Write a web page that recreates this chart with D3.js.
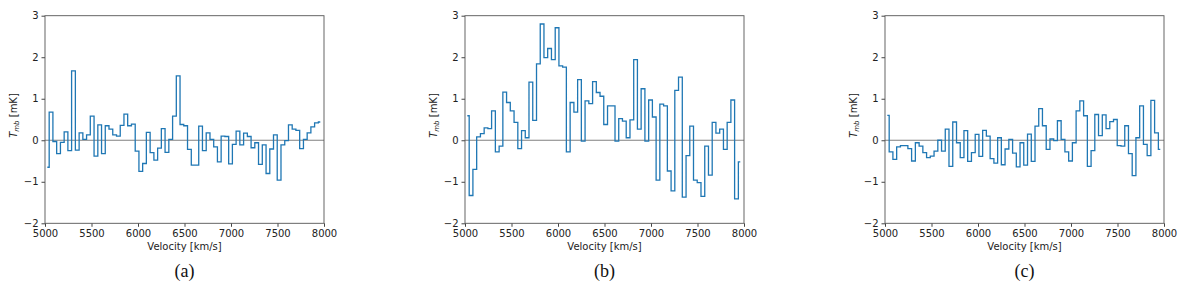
<!DOCTYPE html>
<html>
<head>
<meta charset="utf-8">
<script src="https://cdn.jsdelivr.net/npm/d3@7"></script>
<style>
  body { margin: 0; background: #fff; }
  svg text { font-family: "DejaVu Sans", sans-serif; }
  svg text.caption { font-family: "Liberation Serif", "DejaVu Serif", serif; }
</style>
</head>
<body>
<div id="chart"></div>
<script>
// channel velocities [km/s]
const velocity = [
  5025, 5065, 5105, 5146, 5186, 5226, 5266, 5306, 5347, 5387,
  5427, 5467, 5507, 5548, 5588, 5628, 5668, 5708, 5749, 5789,
  5829, 5869, 5909, 5950, 5990, 6030, 6070, 6110, 6151, 6191,
  6231, 6271, 6311, 6352, 6392, 6432, 6472, 6512, 6553, 6593,
  6633, 6673, 6713, 6754, 6794, 6834, 6874, 6914, 6955, 6995,
  7035, 7075, 7115, 7156, 7196, 7236, 7276, 7316, 7357, 7397,
  7437, 7477, 7517, 7558, 7598, 7638, 7678, 7718, 7759, 7799,
  7839, 7879, 7919, 7960
];

// T_mb [mK] per channel
const tmbA = [
  -0.65, 0.68, -0.03, -0.32, -0.05, 0.20, -0.25, 1.67, -0.24, 0.18,
  0.02, 0.13, 0.58, -0.38, 0.37, -0.32, 0.35, 0.27, 0.13, 0.10,
  0.36, 0.63, 0.35, 0.39, -0.26, -0.75, -0.56, 0.19, -0.30, -0.48,
  -0.19, 0.28, -0.29, 0.02, 0.58, 1.55, 0.38, 0.35, -0.22, -0.60,
  -0.60, 0.34, -0.25, 0.18, 0.02, -0.16, -0.52, 0.10, 0.09, -0.57,
  -0.10, 0.22, -0.11, 0.17, 0.09, -0.18, -0.06, -0.58, -0.11, -0.80,
  -0.21, 0.13, -0.96, -0.11, -0.01, 0.37, 0.27, 0.24, -0.20, 0.02,
  0.18, 0.32, 0.42, 0.44
];
const tmbB = [
  0.59, -1.33, -0.70, 0.08, 0.16, 0.30, 0.28, 0.71, -0.28, -0.14,
  1.16, 0.91, 0.71, 0.43, -0.20, 0.23, 0.06, 1.40, 0.48, 1.84,
  2.80, 1.99, 2.21, 1.94, 2.71, 1.79, 1.76, -0.28, 0.91, 0.68,
  1.46, -0.02, 0.95, 0.88, 1.41, 1.15, 1.06, 0.38, 0.83, 0.83,
  -0.02, 0.52, 0.46, 0.06, 0.49, 1.94, 0.27, 1.24, -0.02, 0.97,
  0.56, -0.96, 0.87, 0.83, -0.74, -1.22, 1.20, 1.52, -1.37, -0.37,
  0.34, -0.96, -1.02, -1.35, -0.14, -0.84, 0.43, 0.17, 0.27, -0.22,
  0.43, 0.97, -1.41, -0.52
];
const tmbC = [
  0.60, -0.28, -0.46, -0.16, -0.13, -0.13, -0.20, -0.50, -0.06, -0.14,
  -0.30, -0.42, -0.38, -0.26, 0.00, -0.26, 0.27, -0.63, 0.44, -0.06,
  -0.42, 0.23, -0.51, -0.30, 0.14, -0.39, 0.24, 0.10, -0.44, -0.55,
  0.06, -0.59, -0.21, 0.02, -0.31, -0.64, -0.06, -0.60, 0.15, -0.51,
  0.34, 0.76, 0.35, -0.22, 0.03, -0.01, 0.47, 0.02, -0.28, -0.50,
  -0.06, 0.71, 0.95, 0.59, -0.63, -0.25, 0.62, 0.11, 0.61, 0.28,
  0.45, 0.50, -0.13, -0.14, 0.35, -0.32, -0.85, 0.06, 0.83, -0.10,
  -0.37, 0.96, 0.18, -0.22
];

const xTicks = [5000, 5500, 6000, 6500, 7000, 7500, 8000];
const yTicks = [-2, -1, 0, 1, 2, 3];
const panelLabels = ["(a)", "(b)", "(c)"];
const panelSeries = [tmbA, tmbB, tmbC];

const width = 1200, height = 288;
const panelLeft = [45, 465, 885];
const plotW = 279;
const plotTop = 15.7, plotBottom = 223.3;

const svg = d3.select("#chart")
  .append("svg")
    .attr("width", width)
    .attr("height", height)
    .attr("viewBox", `0 0 ${width} ${height}`);

const fmt = d => String(d).replace("-", "\u2212");

const x = d3.scaleLinear().domain([5000, 8000]).range([0, plotW]);
const y = d3.scaleLinear().domain([-2, 3]).range([plotBottom - plotTop, 0]);
const plotH = plotBottom - plotTop;

const line = d3.line()
  .x((d, i) => x(velocity[i]))
  .y(d => y(d))
  .curve(d3.curveStep);

panelSeries.forEach((series, p) => {
  const g = svg.append("g")
    .attr("transform", `translate(${panelLeft[p]}, ${plotTop})`);

  // axes
  g.append("g")
    .attr("transform", `translate(0, ${plotH})`)
    .call(d3.axisBottom(x).tickValues(xTicks).tickFormat(d => d)
      .tickSize(3.5).tickSizeOuter(0).tickPadding(3))
    .call(a => a.selectAll("text").attr("font-size", 10).attr("fill", "#222"))
    .call(a => a.selectAll("line").attr("stroke", "#444"))
    .call(a => a.select(".domain").remove());

  g.append("g")
    .call(d3.axisLeft(y).tickValues(yTicks).tickFormat(fmt)
      .tickSize(3.5).tickSizeOuter(0).tickPadding(3))
    .call(a => a.selectAll("text").attr("font-size", 10).attr("fill", "#222"))
    .call(a => a.selectAll("line").attr("stroke", "#444"))
    .call(a => a.select(".domain").remove());

  // zero line
  g.append("line")
    .attr("x1", 0).attr("x2", plotW)
    .attr("y1", y(0)).attr("y2", y(0))
    .attr("stroke", "#808080")
    .attr("stroke-width", 1.1);

  // spectrum
  g.append("path")
    .datum(series)
    .attr("fill", "none")
    .attr("stroke", "#1f77b4")
    .attr("stroke-width", 1.3)
    .attr("d", line);

  // frame
  g.append("rect")
    .attr("x", 0).attr("y", 0)
    .attr("width", plotW).attr("height", plotH)
    .attr("fill", "none")
    .attr("stroke", "#555")
    .attr("stroke-width", 0.9);

  // labels
  g.append("text")
    .attr("x", plotW / 2)
    .attr("y", plotH + 27)
    .attr("text-anchor", "middle")
    .attr("font-size", 10)
    .attr("fill", "#222")
    .text("Velocity [km/s]");

  const yl = g.append("text")
    .attr("transform", `translate(-28, ${plotH / 2 - 4}) rotate(-90)`)
    .attr("text-anchor", "middle")
    .attr("font-size", 10)
    .attr("fill", "#222");
  yl.append("tspan").attr("font-style", "italic").text("T");
  yl.append("tspan").attr("font-style", "italic").attr("font-size", 7)
    .attr("dy", 2).text("mb");
  yl.append("tspan").attr("dy", -2).text(" [mK]");

  g.append("text")
    .attr("class", "caption")
    .attr("x", plotW / 2)
    .attr("y", plotH + 54)
    .attr("text-anchor", "middle")
    .attr("font-size", 18)
    .attr("fill", "#111")
    .text(panelLabels[p]);
});
</script>
</body>
</html>
